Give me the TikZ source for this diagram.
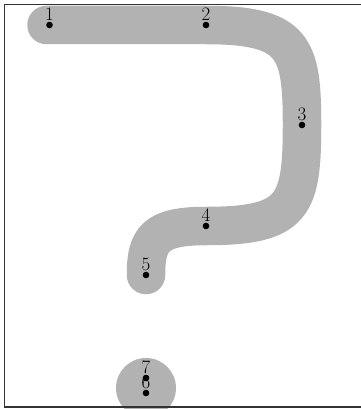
\documentclass[tikz,border=0pt]{standalone}
\usepackage{tikz}
\usetikzlibrary{positioning}

\begin{document}
\begin{tikzpicture}[
		x=1pt, y=-1pt,
		band/.style={line width=38.5pt, line cap=round, draw=black!30},
		blob/.style={fill=black!30},
		dotmark/.style={fill=black},
		num/.style={inner sep=0pt, font=\fontsize{19}{22}\selectfont},
		frame/.style={draw=black!80, line width=1.3pt}
		]
		\useasboundingbox (0,0) rectangle (360,409);
		% the points
		\coordinate (p1) at (49.5,25);
		\coordinate (p2) at (206,25);
		\coordinate (p3) at (302,125);
		\coordinate (p4) at (206,226);
		\coordinate (p5) at (146,275);
		\coordinate (p6) at (146,393);
		\coordinate (p7) at (146,378);
		\coordinate (c67) at (146,388);
		% the hook and the dot
		\draw[band, shorten <=-3pt] (p1) -- (p2)
		.. controls (295,25) and (302,48) .. (p3)
		.. controls (302,206) and (294,226) .. (p4)
		.. controls (155,226) and (146,239) .. (p5);
		\fill[blob] (c67) circle (30pt);
		% marks and numbers
		\foreach \i in {1,...,7} {
				\fill[dotmark] (p\i) circle (3.3pt);
				\node[num, above=4.3pt of p\i] (lbl\i) {\i};
			}
		\draw[frame] (4.3,4.8) rectangle (363,407);
	\end{tikzpicture}
\end{document}
